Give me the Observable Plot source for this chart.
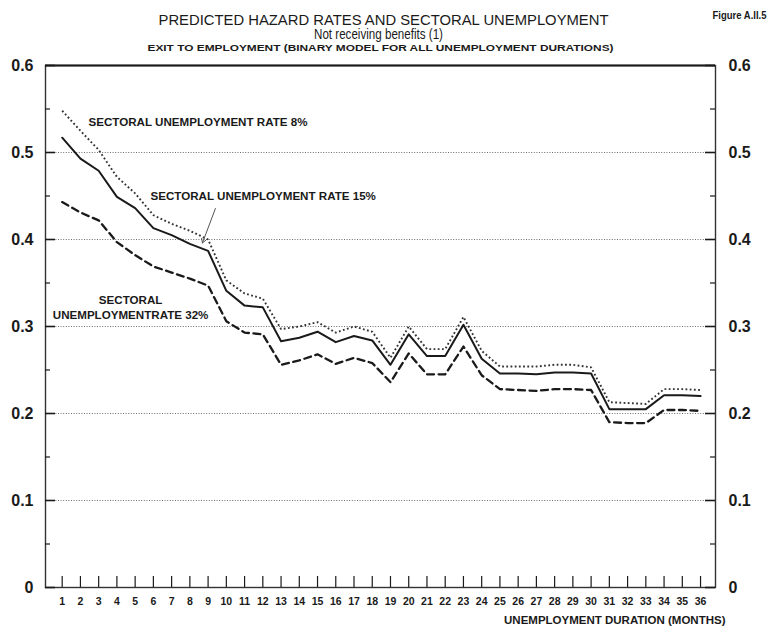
<!DOCTYPE html>
<html>
<head>
<meta charset="utf-8">
<script src="https://cdn.jsdelivr.net/npm/d3@7"></script>
<script src="https://cdn.jsdelivr.net/npm/@observablehq/plot@0.6"></script>
<style>
  html, body { margin: 0; padding: 0; background: #fff; }
  #chart svg { display: block; font-family: "Liberation Sans", Arial, sans-serif; }
</style>
</head>
<body>
<div id="chart"></div>
<script>
// Unemployment duration in months
const months = [1,2,3,4,5,6,7,8,9,10,11,12,13,14,15,16,17,18,19,20,21,22,23,24,25,26,27,28,29,30,31,32,33,34,35,36];

// Predicted hazard rates by sectoral unemployment rate
const rate8 = [0.548,0.525,0.503,0.472,0.453,0.428,0.418,0.410,0.400,0.353,0.338,0.332,
               0.297,0.300,0.305,0.293,0.300,0.294,0.264,0.300,0.274,0.274,0.311,0.272,
               0.254,0.254,0.254,0.256,0.256,0.253,0.213,0.212,0.211,0.228,0.228,0.227];
const rate15 = [0.517,0.493,0.479,0.449,0.436,0.413,0.405,0.395,0.387,0.341,0.324,0.322,
                0.283,0.287,0.294,0.282,0.289,0.284,0.256,0.291,0.266,0.266,0.302,0.263,
                0.246,0.246,0.245,0.247,0.247,0.246,0.205,0.205,0.205,0.221,0.221,0.220];
const rate32 = [0.443,0.431,0.422,0.397,0.382,0.369,0.362,0.355,0.347,0.306,0.293,0.291,
                0.256,0.261,0.268,0.257,0.264,0.258,0.236,0.269,0.245,0.245,0.277,0.244,
                0.228,0.227,0.226,0.228,0.228,0.227,0.190,0.189,0.189,0.204,0.204,0.203];

// Axis ticks
const yTicks = [0, 0.1, 0.2, 0.3, 0.4, 0.5, 0.6];
const yTickLabels = ["0", "0.1", "0.2", "0.3", "0.4", "0.5", "0.6"];
const yMinorTicks = [0.05, 0.15, 0.25, 0.35, 0.45, 0.55];
const yGrid = [0.1, 0.2, 0.3, 0.4, 0.5];

// Text
const title = "PREDICTED HAZARD RATES AND SECTORAL UNEMPLOYMENT";
const subtitle = "Not receiving benefits (1)";
const subsubtitle = "EXIT TO EMPLOYMENT (BINARY MODEL FOR ALL UNEMPLOYMENT DURATIONS)";
const figureLabel = "Figure A.II.5";
const xTitle = "UNEMPLOYMENT DURATION (MONTHS)";

// Series labels placed in data units
const startLabels = [
  {x: 2.44, y: 0.5345, text: "SECTORAL UNEMPLOYMENT RATE 8%"},
  {x: 5.84, y: 0.450, text: "SECTORAL UNEMPLOYMENT RATE 15%"}
];
const centredLabels = [
  {x: 4.75, y: 0.3224, text: "SECTORAL\nUNEMPLOYMENTRATE 32%"}
];
const pointer = [{x1: 9.40, y1: 0.4356, x2: 8.69, y2: 0.396}];

const toRows = (vals) => months.map((m, i) => ({month: m, value: vals[i]}));

const W = 772, H = 631;
const mL = 45, mR = 57, mT = 65, mB = 44;
const frameW = W - mL - mR, frameH = H - mT - mB;
const font = "Liberation Sans, Arial, sans-serif";
const ink = "#1a1a1a";

const chart = Plot.plot({
  width: W,
  height: H,
  marginLeft: mL,
  marginRight: mR,
  marginTop: mT,
  marginBottom: mB,
  x: {type: "linear", domain: [0.085, 36.82], axis: null},
  y: {type: "linear", domain: [0, 0.6], axis: null},
  marks: [
    // dotted gridlines
    Plot.ruleY(yGrid, {stroke: "#5e5e5e", strokeWidth: 0.9, strokeDasharray: "1,1.6"}),
    // frame
    Plot.frame({stroke: "#333", strokeWidth: 1.4}),
    Plot.ruleY([0.6], {stroke: ink, strokeWidth: 1.8}),
    // inward ticks on both vertical axes
    Plot.tickY(yTicks, {y: d => d, stroke: ink, strokeWidth: 1.6, insetRight: frameW - 10}),
    Plot.tickY(yMinorTicks, {y: d => d, stroke: ink, strokeWidth: 1.2, insetRight: frameW - 5}),
    Plot.tickY(yTicks, {y: d => d, stroke: ink, strokeWidth: 1.6, insetLeft: frameW - 10}),
    Plot.tickY(yMinorTicks, {y: d => d, stroke: ink, strokeWidth: 1.2, insetLeft: frameW - 5}),
    // month ticks rising from the baseline
    Plot.tickX(months, {x: d => d, stroke: ink, strokeWidth: 1.2, insetTop: frameH - 11}),
    // tick labels
    Plot.text(yTicks, {y: d => d, text: (d, i) => yTickLabels[i], frameAnchor: "left", dx: -12,
      textAnchor: "end", fontSize: 16, fontWeight: "bold", fill: ink}),
    Plot.text(yTicks, {y: d => d, text: (d, i) => yTickLabels[i], frameAnchor: "right", dx: 13,
      textAnchor: "start", fontSize: 16, fontWeight: "bold", fill: ink}),
    Plot.text(months, {x: d => d, text: d => String(d), frameAnchor: "bottom", dy: 17,
      fontSize: 10.5, fontWeight: "bold", fill: ink}),
    // series
    Plot.line(toRows(rate8), {x: "month", y: "value", stroke: "#333", strokeWidth: 1.9,
      strokeDasharray: "1.8,2.4", strokeLinecap: "butt"}),
    Plot.line(toRows(rate32), {x: "month", y: "value", stroke: ink, strokeWidth: 2.3,
      strokeDasharray: "7,4.5"}),
    Plot.line(toRows(rate15), {x: "month", y: "value", stroke: ink, strokeWidth: 2}),
    // series labels and pointer
    Plot.text(startLabels, {x: "x", y: "y", text: "text", textAnchor: "start",
      fontSize: 11.6, fontWeight: "bold", fill: ink}),
    Plot.text(centredLabels, {x: "x", y: "y", text: "text", textAnchor: "middle",
      fontSize: 11.6, fontWeight: "bold", lineHeight: 1.3, fill: ink}),
    Plot.arrow(pointer, {x1: "x1", y1: "y1", x2: "x2", y2: "y2", stroke: "#555",
      strokeWidth: 1, headLength: 7}),
    // titles
    Plot.text([title], {frameAnchor: "top", dx: 3, dy: -51, fontSize: 14.5, fill: ink}),
    Plot.text([subtitle], {frameAnchor: "top", dx: -2, dy: -36, fontSize: 14, fill: ink}),
    Plot.text([subsubtitle], {frameAnchor: "top", dx: 0, dy: -21, fontSize: 9.8,
      fontWeight: "bold", fill: ink}),
    Plot.text([figureLabel], {frameAnchor: "top-right", dx: 51, dy: -54, textAnchor: "end",
      fontSize: 10, fontWeight: "bold", fill: ink}),
    Plot.text([xTitle], {frameAnchor: "bottom-right", dx: 10, dy: 36, textAnchor: "end",
      fontSize: 11.5, fontWeight: "bold", fill: ink})
  ]
});

// condensed widths for the heading lines
const fitWidths = new Map([[title, 450], [subtitle, 129], [subsubtitle, 466], [figureLabel, 54]]);
d3.select(chart).selectAll("text").each(function () {
  const w = fitWidths.get(this.textContent);
  if (w) d3.select(this).attr("textLength", w).attr("lengthAdjust", "spacingAndGlyphs");
});
d3.select(chart).style("font-family", font);

document.getElementById("chart").appendChild(chart);
</script>
</body>
</html>
